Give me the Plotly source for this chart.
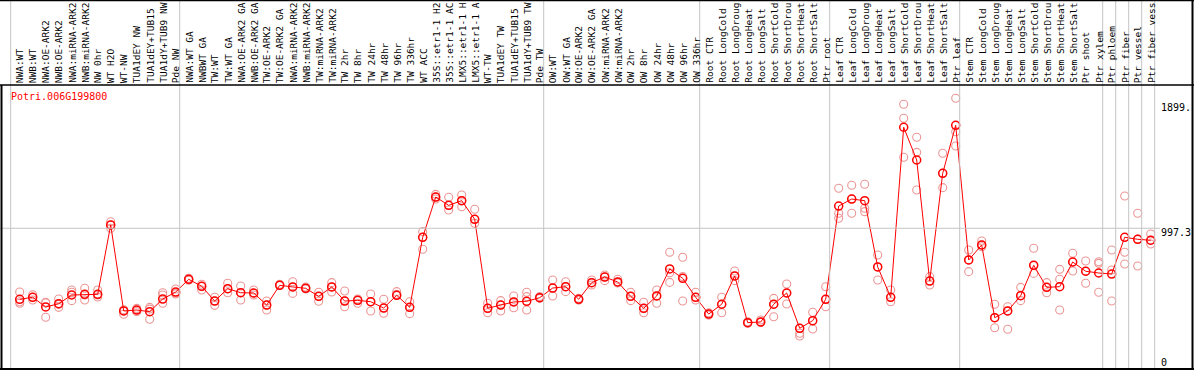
import plotly.graph_objects as go

gene = "Potri.006G199800"

categories = [
    "NWA:WT", "NWB:WT", "NWA:OE-ARK2", "NWB:OE-ARK2", "NWA:miRNA-ARK2", "NWB:miRNA-ARK2",
    "NW 0hr", "WT H2O", "WT-NW", "TUA1dEY NW", "TUA1dEY+TUB15", "TUA1dY+TUB9 NW", "Pde NW",
    "NWA:WT GA", "NWBWT GA", "TW:WT", "TW:WT GA", "NWA:OE-ARK2 GA", "NWB:OE-ARK2 GA",
    "TW:OE-ARK2", "TW:OE-ARK2 GA", "NWA:miRNA-ARK2", "NWB:miRNA-ARK2", "TW:miRNA-ARK2",
    "TW:miRNA-ARK2", "TW 2hr", "TW 8hr", "TW 24hr", "TW 48hr", "TW 96hr", "TW 336hr",
    "WT ACC", "35S::etr1-1 H2", "35S::etr1-1 AC", "LMX5::etr1-1 H", "LMX5::etr1-1 A",
    "WT-TW", "TUA1dEY TW", "TUA1dEY+TUB15", "TUA1dY+TUB9 TW", "Pde TW",
    "OW:WT", "OW:WT GA", "OW:OE-ARK2", "OW:OE-ARK2 GA", "OW:miRNA-ARK2", "OW:miRNA-ARK2",
    "OW 2hr", "OW 8hr", "OW 24hr", "OW 48hr", "OW 96hr", "OW 336hr",
    "Root CTR", "Root LongCold", "Root LongDroug", "Root LongHeat", "Root LongSalt",
    "Root ShortCold", "Root ShortDrou", "Root ShortHeat", "Root ShortSalt", "Ptr root",
    "Leaf CTR", "Leaf LongCold", "Leaf LongDroug", "Leaf LongHeat", "Leaf LongSalt",
    "Leaf ShortCold", "Leaf ShortDrou", "Leaf ShortHeat", "Leaf ShortSalt", "Ptr leaf",
    "Stem CTR", "Stem LongCold", "Stem LongDroug", "Stem LongHeat", "Stem LongSalt",
    "Stem ShortCold", "Stem ShortDrou", "Stem ShortHeat", "Stem ShortSalt", "Ptr shoot",
    "Ptr xylem", "Ptr phloem", "Ptr fiber", "Ptr vessel", "Ptr fiber vess",
]

means = [
    468, 483, 411, 435, 500, 505, 505, 1022, 381, 388, 376, 470, 522,
    617, 565, 455, 547, 517, 515, 425, 572, 560, 550, 490, 560, 455, 460, 450, 403, 498, 408,
    930, 1230, 1168, 1203, 1064, 401, 425, 448, 453, 480,
    552, 562, 468, 592, 634, 597, 490, 401, 493, 694, 624, 483,
    358, 431, 642, 294, 299, 431, 515, 252, 309, 468,
    1163, 1215, 1203, 709, 483, 1750, 1506, 604, 1407, 1764,
    761, 873, 331, 381, 495, 721, 557, 562, 746, 677,
    664, 656, 930, 915, 908,
]

replicates = [
    [522, 450, 438], [502, 483, 463], [446, 440, 334], [470, 430, 408], [537, 520, 458],
    [550, 500, 463], [537, 500, 485], [1046, 1022, 997], [390, 381, 356], [400, 388, 376],
    [408, 395, 319], [517, 500, 438], [545, 507, 515],
    [625, 617, 610], [580, 565, 537], [483, 455, 423], [587, 547, 517], [567, 517, 463],
    [537, 515, 500], [455, 425, 388], [580, 572, 575], [599, 560, 512], [560, 550, 545],
    [520, 490, 453], [592, 560, 522], [530, 455, 413], [470, 460, 438], [507, 450, 381],
    [468, 403, 364], [525, 498, 505], [450, 408, 361],
    [972, 930, 841], [1250, 1230, 1215], [1228, 1168, 1133], [1245, 1203, 1158],
    [1139, 1064, 1034], [438, 401, 368], [458, 425, 381], [493, 448, 405],
    [520, 488, 388], [488, 480, 475],
    [612, 552, 493], [599, 562, 525], [475, 468, 462], [612, 592, 575], [649, 634, 607],
    [617, 597, 590], [520, 490, 458], [446, 401, 368], [537, 493, 438], [818, 666, 594],
    [781, 637, 455], [520, 483, 463],
    [368, 358, 350], [483, 431, 368], [679, 642, 607], [300, 294, 290], [314, 299, 295],
    [475, 431, 338], [582, 515, 433], [252, 215, 194], [371, 309, 247], [562, 468, 413],
    [1295, 1109, 1072], [1318, 1215, 1109], [1325, 1146, 1121], [798, 709, 612],
    [537, 483, 450], [1921, 1817, 1526], [1675, 1563, 1282], [637, 604, 575],
    [1556, 1407, 1300], [1966, 1717, 1610],
    [835, 761, 674], [902, 873, 860], [431, 331, 256], [413, 381, 245], [557, 495, 458],
    [848, 721, 661], [592, 557, 517], [691, 617, 388], [811, 746, 679], [753, 677, 587],
    [748, 736, 520], [835, 686, 455], [1238, 818, 731], [1109, 916, 716], [955, 908, 880],
]

group_starts = [0, 13, 41, 53, 63, 73, 84, 85, 86, 87, 88]
tick_values = [1899, 997.3, 0]
tick_labels = ["1899.", "997.3", "0"]

W, H = 1194, 370
x0_px, step_px = 19.7, 13.0
y0_px, scale_px = 362.1, 0.1342

x = list(range(len(categories)))
rx, ry = [], []
for i, reps in enumerate(replicates):
    for v in reps:
        rx.append(i)
        ry.append(v)

fig = go.Figure()
fig.add_trace(go.Scatter(
    x=rx, y=ry, mode="markers",
    marker=dict(symbol="circle-open", size=8, color="#ec9696", line=dict(width=1.1, color="#ec9696")),
    hoverinfo="skip", showlegend=False,
))
fig.add_trace(go.Scatter(
    x=x, y=means, mode="lines+markers",
    line=dict(color="#ff0000", width=1),
    marker=dict(symbol="circle-open", size=8, color="#ff0000", line=dict(width=1.5, color="#ff0000")),
    showlegend=False, text=categories,
))

def py(p):
    return 1 - p / H

shapes = []
for g in group_starts:
    xv = g - 9 / step_px
    shapes.append(dict(type="line", xref="x", yref="paper", x0=xv, x1=xv, y0=py(369), y1=1,
                       line=dict(color="#c4c4c4", width=1)))
shapes.append(dict(type="line", xref="paper", yref="y", x0=0, x1=1160 / W, y0=tick_values[1], y1=tick_values[1],
                   line=dict(color="#c4c4c4", width=1)))
shapes.append(dict(type="line", xref="paper", yref="paper", x0=0, x1=1, y0=py(85), y1=py(85),
                   line=dict(color="black", width=1.5)))
shapes.append(dict(type="line", xref="paper", yref="paper", x0=0, x1=1, y0=py(369), y1=py(369),
                   line=dict(color="black", width=2)))
shapes.append(dict(type="line", xref="paper", yref="paper", x0=1.5 / W, x1=1.5 / W, y0=py(369), y1=py(85),
                   line=dict(color="black", width=2)))
shapes.append(dict(type="line", xref="paper", yref="paper", x0=1192.5 / W, x1=1192.5 / W, y0=0, y1=1,
                   line=dict(color="black", width=2)))
shapes.append(dict(type="line", xref="paper", yref="paper", x0=0, x1=1, y0=py(0.5), y1=py(0.5),
                   line=dict(color="black", width=1.5)))

annotations = []
for i, c in enumerate(categories):
    annotations.append(dict(x=i, y=py(84), xref="x", yref="paper", text=c, showarrow=False,
                            textangle=-90, xanchor="center", yanchor="bottom",
                            font=dict(family="DejaVu Sans Mono", size=9.5, color="black"),
                            borderpad=0))
annotations.append(dict(x=9 / W, y=py(96), xref="paper", yref="paper", text=gene, showarrow=False,
                        xanchor="left", yanchor="middle",
                        font=dict(family="DejaVu Sans Mono", size=10, color="#ff0000")))
shifts = [0, -4, 0]
for tv, tl, sh in zip(tick_values, tick_labels, shifts):
    annotations.append(dict(x=1160 / W, y=tv, xref="paper", yref="y", text=tl, showarrow=False,
                            xanchor="left", yanchor="middle", yshift=sh, borderpad=0,
                            font=dict(family="DejaVu Sans Mono", size=10, color="black")))

fig.update_layout(
    width=W, height=H,
    margin=dict(l=0, r=0, t=0, b=0),
    paper_bgcolor="white", plot_bgcolor="white",
    xaxis=dict(range=[-x0_px / step_px, (W - x0_px) / step_px], visible=False, fixedrange=True),
    yaxis=dict(range=[(y0_px - H) / scale_px, y0_px / scale_px], visible=False, fixedrange=True),
    shapes=shapes, annotations=annotations, showlegend=False,
)
fig.write_html("out.html", config={"displayModeBar": False},
               post_script="document.body.style.margin='0';document.body.style.overflow='hidden';")
